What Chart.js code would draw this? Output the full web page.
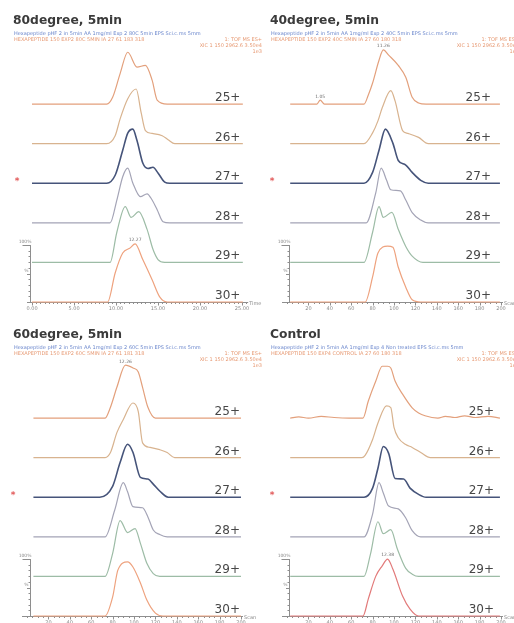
<!DOCTYPE html>
<html>
<head>
<meta charset="utf-8">
<script src="https://cdn.jsdelivr.net/npm/chart.js@4/dist/chart.umd.min.js"></script>
<style>
  html, body { margin: 0; padding: 0; background: #fff; }
  #wrap { position: relative; width: 514px; height: 623px; overflow: hidden; background: #fff; }
  #wrap canvas { position: absolute; left: 0; top: 0; }
</style>
</head>
<body>
<div id="wrap">
  <canvas id="p80" width="514" height="623"></canvas>
  <canvas id="p40" width="514" height="623"></canvas>
  <canvas id="p60" width="514" height="623"></canvas>
  <canvas id="pCtl" width="514" height="623"></canvas>
</div>
<script>
// ---- data ----
const chargeStates = ['25+', '26+', '27+', '28+', '29+', '30+'];
const panelTitles = ['80degree, 5min', '40degree, 5min', '60degree, 5min', 'Control'];
const timeTicks = [0, 5, 10, 15, 20, 25];
const timeTickLabels = ['0.00', '5.00', '10.00', '15.00', '20.00', '25.00'];
const scanTicks = [20, 40, 60, 80, 100, 120, 140, 160, 180, 200];
const scanTickLabels = ['20', '40', '60', '80', '100', '120', '140', '160', '180', '200'];

const headerBlue = [
  'Hexapeptide pHF 2 in 5min AA 1mg/ml Exp 2 80C 5min EPS Sci.c.ms 5mm',
  'Hexapeptide pHF 2 in 5min AA 1mg/ml Exp 2 40C 5min EPS Sci.c.ms 5mm',
  'Hexapeptide pHF 2 in 5min AA 1mg/ml Exp 2 60C 5min EPS Sci.c.ms 5mm',
  'Hexapeptide pHF 2 in 5min AA 1mg/ml Exp 4 Non treated EPS Sci.c.ms 5mm'
];
const headerOrange = [
  'HEXAPEPTIDE 150 EXP2 80C 5MIN IA 27 61 183 318',
  'HEXAPEPTIDE 150 EXP2 40C 5MIN IA 27 60 180 318',
  'HEXAPEPTIDE 150 EXP2 60C 5MIN IA 27 61 181 318',
  'HEXAPEPTIDE 150 EXP4 CONTROL IA 27 60 180 318'
];
const headerRight = ['1: TOF MS ES+', 'XIC 1 150 2962.6 3.50e4', '1e3'];

// intensity (%) vs retention time / scan, one array per charge state
const d80_25 = [[0,0],[8.9,0],[9.6,12],[10.5,54],[11.4,91],[12.5,65],[13.5,68],[14.3,42],[14.9,7],[16.1,0],[25.1,0]];
const d80_26 = [[0,0],[8.9,0],[9.9,14],[10.5,44],[11.4,79],[12.4,96],[13.0,54],[13.5,23],[14.3,18],[15.5,14],[16.2,7],[17.0,0],[25.1,0]];
const d80_27 = [[0,0],[8.9,0],[9.9,14],[10.8,58],[11.4,88],[12.0,95],[12.5,75],[13.2,35],[13.8,26],[14.4,28],[15.0,18],[15.8,2],[16.4,0],[25.1,0]];
const d80_28 = [[0,0],[9.3,0],[10.1,40],[10.8,81],[11.4,96],[12.0,70],[12.9,46],[13.7,51],[14.3,40],[14.9,23],[15.6,2],[16.4,0],[25.1,0]];
const d80_29 = [[0,0],[9.3,0],[10.1,53],[11.1,98],[11.8,79],[12.7,89],[13.7,58],[14.4,23],[15.0,5],[15.8,0],[25.1,0]];
const d80_30 = [[0,0],[9.0,0],[9.9,51],[10.8,86],[11.7,95],[12.27,102],[13.2,74],[14.3,39],[15.2,9],[16.1,0],[25.1,0]];

const d40_25 = [[3,0],[28,0],[31,7],[35,0],[72,0],[76,16],[80,37],[86,77],[90,95],[95,86],[104,68],[111,47],[117,12],[123,2],[130,0],[199,0]];
const d40_26 = [[3,0],[72,0],[80,19],[85,40],[89,63],[97,93],[101,75],[108,23],[113,18],[123,11],[132,0],[199,0]];
const d40_27 = [[3,0],[72,0],[80,19],[86,58],[92,95],[99,70],[104,40],[111,32],[117,19],[125,5],[132,0],[199,0]];
const d40_28 = [[3,0],[74,0],[83,53],[88,96],[93,75],[97,58],[106,56],[111,40],[117,18],[125,5],[132,0],[199,0]];
const d40_29 = [[3,0],[72,0],[80,53],[86,98],[90,79],[98,88],[104,58],[111,28],[117,11],[127,0],[199,0]];
const d40_30 = [[3,0],[73,0],[80,44],[85,86],[94,98],[99,96],[104,61],[111,26],[117,4],[125,0],[199,0]];

const d60_25 = [[6,0],[73,0],[78,19],[84,54],[92,93],[99,88],[104,81],[108,54],[113,19],[120,0],[200,0]];
const d60_26 = [[6,0],[73,0],[78,9],[84,44],[90,67],[99,96],[104,81],[108,26],[115,18],[124,14],[131,9],[138,0],[200,0]];
const d60_27 = [[6,0],[68,0],[80,19],[87,61],[94,93],[99,79],[106,35],[113,32],[118,23],[124,11],[132,0],[200,0]];
const d60_28 = [[6,0],[73,0],[82,47],[90,95],[94,79],[99,53],[108,51],[113,35],[118,12],[124,4],[131,0],[200,0]];
const d60_29 = [[6,0],[73,0],[80,40],[87,98],[94,77],[101,84],[106,58],[112,23],[118,5],[124,0],[200,0]];
const d60_30 = [[6,0],[73,0],[80,33],[85,81],[94,95],[99,86],[106,58],[112,28],[120,5],[127,0],[200,0]];

const dCtl_25 = [[3,0],[11,2],[20,0],[32,3],[44,1],[58,0],[71,0],[76,30],[83,65],[89,91],[94,91],[97,88],[101,65],[108,42],[117,18],[123,9],[129,4],[141,0],[148,3],[157,1],[166,4],[176,1],[188,3],[199,0]];
const dCtl_26 = [[3,0],[70,0],[73,4],[80,32],[85,61],[93,91],[97,88],[100,53],[104,35],[111,23],[117,18],[125,9],[134,0],[199,0]];
const dCtl_27 = [[3,0],[72,0],[80,16],[85,51],[90,89],[95,77],[101,33],[109,32],[115,16],[123,5],[130,0],[199,0]];
const dCtl_28 = [[3,0],[72,0],[80,40],[86,95],[90,77],[95,54],[104,49],[111,33],[117,11],[125,0],[199,0]];
const dCtl_29 = [[3,0],[72,0],[78,39],[85,96],[90,75],[97,82],[103,49],[111,14],[117,4],[123,0],[199,0]];
const dCtl_30 = [[3,0],[71,0],[76,30],[83,70],[89,88],[94,100],[99,82],[108,35],[115,12],[123,0],[199,0]];

// ---- styling / layout ----
const traceStep = 69.5;          // vertical offset between stacked traces (% units)
const yTop = 460;
const traceColors = ['#e3a07c', '#d8b38f', '#46547a', '#a4a4b6', '#9dbca6', '#eea27e'];
const controlColors = ['#e3a07c', '#d8b38f', '#46547a', '#a4a4b6', '#9dbca6', '#e27a7a'];

const panels = [
  { id: 'p80', title: panelTitles[0], ox: 0, oy: 0, traces: [d80_25, d80_26, d80_27, d80_28, d80_29, d80_30],
    colors: traceColors, xMax: 25.5, ticks: timeTicks, tickLabels: timeTickLabels, minor: 0.5, axisName: 'Time',
    pad: { left: 32, right: 267.8, top: 40, bottom: 321 }, labelX: 24.8, yAxisDx: -2, starX: 17,
    notes: [{ trace: 5, x: 12.27, text: '12.27' }], hdr: 0 },
  { id: 'p40', title: panelTitles[1], ox: 257, oy: 0, traces: [d40_25, d40_26, d40_27, d40_28, d40_29, d40_30],
    colors: traceColors, xMax: 200, ticks: scanTicks, tickLabels: scanTickLabels, minor: 5, axisName: 'Scan',
    pad: { left: 287, right: 13, top: 40, bottom: 321 }, labelX: 190.6, yAxisDx: 2, starX: 15,
    notes: [{ trace: 0, x: 90, text: '11.26' }, { trace: 0, x: 31, text: '1.05' }], hdr: 1 },
  { id: 'p60', title: panelTitles[2], ox: 0, oy: 314, traces: [d60_25, d60_26, d60_27, d60_28, d60_29, d60_30],
    colors: traceColors, xMax: 200, ticks: scanTicks, tickLabels: scanTickLabels, minor: 5, axisName: 'Scan',
    pad: { left: 27, right: 273, top: 354, bottom: 7 }, labelX: 199, yAxisDx: 3, starX: 13,
    notes: [{ trace: 0, x: 92, text: '12.26' }], hdr: 2 },
  { id: 'pCtl', title: panelTitles[3], ox: 257, oy: 314, traces: [dCtl_25, dCtl_26, dCtl_27, dCtl_28, dCtl_29, dCtl_30],
    colors: controlColors, xMax: 200, ticks: scanTicks, tickLabels: scanTickLabels, minor: 5, axisName: 'Scan',
    pad: { left: 287, right: 13, top: 354, bottom: 7 }, labelX: 193.5, yAxisDx: 2, starX: 15,
    notes: [{ trace: 5, x: 94, text: '12.38' }], hdr: 3 }
];

const offsetOf = i => (chargeStates.length - 1 - i) * traceStep;

function decorations(p) {
  return {
    id: 'decor_' + p.id,
    beforeDatasetsDraw(chart) {
      const { ctx, chartArea: a, scales: { x, y } } = chart;
      const y0 = Math.round(y.getPixelForValue(0)) + 0.5;
      ctx.save();
      ctx.strokeStyle = '#8e8e8e';
      ctx.lineWidth = 1;
      // time / scan axis
      ctx.beginPath();
      ctx.moveTo(a.left - 5, y0);
      ctx.lineTo(a.right + 2, y0);
      ctx.stroke();
      const nMinor = Math.round(p.xMax / p.minor);
      ctx.beginPath();
      for (let k = 0; k <= nMinor; k++) {
        const px = Math.round(x.getPixelForValue(k * p.minor)) + 0.5;
        ctx.moveTo(px, y0);
        ctx.lineTo(px, y0 + 1.5);
      }
      p.ticks.forEach(t => {
        const px = Math.round(x.getPixelForValue(t)) + 0.5;
        ctx.moveTo(px, y0);
        ctx.lineTo(px, y0 + 3);
      });
      ctx.stroke();
      ctx.fillStyle = '#8a8a8a';
      ctx.font = '5px "DejaVu Sans"';
      ctx.textAlign = 'center';
      ctx.textBaseline = 'top';
      p.ticks.forEach((t, k) => ctx.fillText(p.tickLabels[k], x.getPixelForValue(t), y0 + 3.5));
      ctx.textAlign = 'left';
      ctx.textBaseline = 'middle';
      ctx.fillText(p.axisName, a.right + 3, y0 + 1);

      // intensity scale beside the lowest trace
      const ax = Math.round(a.left + p.yAxisDx) + 0.5;
      const y100 = y.getPixelForValue(100);
      ctx.beginPath();
      ctx.moveTo(ax, y0);
      ctx.lineTo(ax, y100);
      for (let v = 0; v <= 100; v += 10) {
        const py = Math.round(y.getPixelForValue(v)) + 0.5;
        const len = v === 100 ? 8 : (v === 50 ? 3.5 : 2);
        ctx.moveTo(ax - len, py);
        ctx.lineTo(ax, py);
      }
      ctx.stroke();
      ctx.textAlign = 'right';
      ctx.textBaseline = 'bottom';
      ctx.font = '4.5px "DejaVu Sans"';
      ctx.fillText('100%', ax + 1, y100 - 0.5);
      ctx.textBaseline = 'middle';
      ctx.fillText('%', ax - 2, y.getPixelForValue(50) - 3);
      ctx.restore();
    },
    afterDatasetsDraw(chart) {
      const { ctx, scales: { x, y } } = chart;
      ctx.save();
      // charge state labels
      ctx.fillStyle = '#474747';
      ctx.font = '12px "DejaVu Sans"';
      ctx.textAlign = 'right';
      ctx.textBaseline = 'alphabetic';
      chargeStates.forEach((cs, i) => {
        ctx.fillText(cs, x.getPixelForValue(p.labelX), y.getPixelForValue(offsetOf(i)) - 3);
      });
      // marker for the 27+ trace
      ctx.fillStyle = '#e25a5a';
      ctx.font = 'bold 9px "DejaVu Sans"';
      ctx.textAlign = 'center';
      ctx.fillText('*', p.ox + p.starX, y.getPixelForValue(offsetOf(2)) + 0.5);
      // peak annotations
      ctx.fillStyle = '#6f6f6f';
      ctx.font = '4.5px "DejaVu Sans"';
      ctx.textBaseline = 'bottom';
      p.notes.forEach(n => {
        const pt = p.traces[n.trace].find(q => q[0] === n.x);
        ctx.fillText(n.text, x.getPixelForValue(pt[0]), y.getPixelForValue(pt[1] + offsetOf(n.trace)) - 1.5);
      });
      // panel title and acquisition header
      ctx.textAlign = 'left';
      ctx.textBaseline = 'alphabetic';
      ctx.fillStyle = '#3b3b3b';
      ctx.font = 'bold 12.3px "DejaVu Sans"';
      ctx.fillText(p.title, p.ox + 13, p.oy + 24);
      ctx.font = '5px "DejaVu Sans"';
      ctx.fillStyle = '#6a86cc';
      ctx.fillText(headerBlue[p.hdr], p.ox + 14, p.oy + 35, 236);
      ctx.fillStyle = '#e79a74';
      ctx.fillText(headerOrange[p.hdr], p.ox + 14, p.oy + 41, 155);
      ctx.textAlign = 'right';
      ctx.fillText(headerRight[0], p.ox + 262, p.oy + 41, 46);
      ctx.fillText(headerRight[1], p.ox + 262, p.oy + 47, 76);
      ctx.fillText(headerRight[2], p.ox + 262, p.oy + 53, 12);
      ctx.restore();
    }
  };
}

panels.forEach(p => {
  new Chart(document.getElementById(p.id), {
    type: 'line',
    data: {
      datasets: p.traces.map((tr, i) => ({
        label: chargeStates[i],
        data: tr.map(([t, v]) => ({ x: t, y: v + offsetOf(i) })),
        borderColor: p.colors[i],
        borderWidth: i === 2 ? 1.6 : 1.2,
        pointRadius: 0,
        fill: false,
        cubicInterpolationMode: 'monotone',
        clip: false,
        order: i === 2 ? -1 : i
      }))
    },
    options: {
      responsive: false,
      animation: false,
      events: [],
      layout: { padding: p.pad },
      scales: {
        x: { type: 'linear', min: 0, max: p.xMax, display: false },
        y: { min: 0, max: yTop, display: false }
      },
      plugins: { legend: { display: false }, tooltip: { enabled: false } }
    },
    plugins: [decorations(p)]
  });
});
</script>
</body>
</html>
